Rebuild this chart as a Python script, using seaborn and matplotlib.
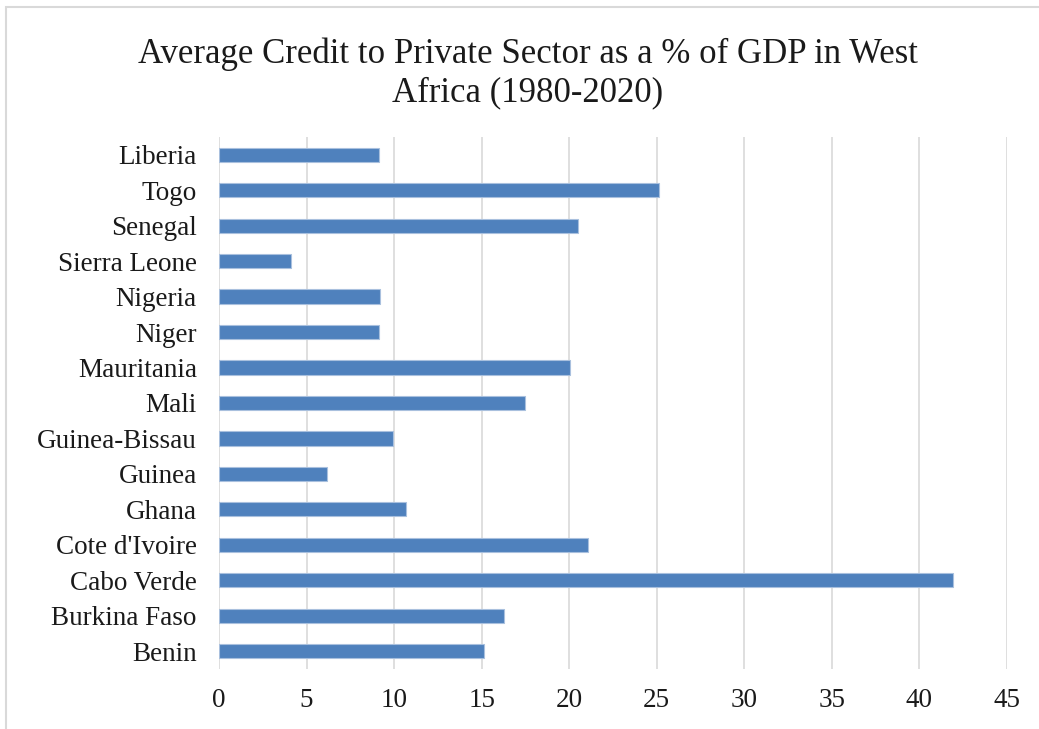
import matplotlib
matplotlib.use("Agg")
import matplotlib.pyplot as plt
from matplotlib.patches import Rectangle
import seaborn as sns
import pandas as pd

countries = ["Liberia", "Togo", "Senegal", "Sierra Leone", "Nigeria", "Niger",
             "Mauritania", "Mali", "Guinea-Bissau", "Guinea", "Ghana",
             "Cote d'Ivoire", "Cabo Verde", "Burkina Faso", "Benin"]
credit_pct = [9.13, 25.1, 20.5, 4.1, 9.2, 9.13,
              20.04, 17.5, 9.92, 6.19, 10.67,
              21.05, 41.9, 16.29, 15.14]
x_ticks = [0, 5, 10, 15, 20, 25, 30, 35, 40, 45]
title = "Average Credit to Private Sector as a % of GDP in West\nAfrica (1980-2020)"

df = pd.DataFrame({"country": countries, "credit": credit_pct})

sns.set_theme(style="white")
plt.rcParams["font.family"] = ["Liberation Serif", "DejaVu Serif"]

fig = plt.figure(figsize=(10.39, 7.29), dpi=100)
ax = fig.add_axes([0.2108, 0.0823, 0.7584, 0.7298])

sns.barplot(data=df, x="credit", y="country", order=countries, orient="h",
            color="#4F81BD", saturation=1, width=0.4,
            edgecolor="#A9C0DE", linewidth=0.8, ax=ax, zorder=3)

ax.set_xlim(0, 45)
ax.set_xticks(x_ticks)
ax.set_xticklabels([str(t) for t in x_ticks])
ax.grid(axis="x", color="#D9D9D9", linewidth=1.2, zorder=0)
ax.set_axisbelow(True)
for s in ax.spines.values():
    s.set_visible(False)
ax.set_xlabel("")
ax.set_ylabel("")
ax.tick_params(axis="y", length=0, pad=16, labelsize=19.5, labelcolor="#1a1a1a")
ax.tick_params(axis="x", length=0, pad=14, labelsize=19.5, labelcolor="#1a1a1a")

fig.text(0.508, 0.948, title, ha="center", va="top", fontsize=25,
         color="#1a1a1a", linespacing=1.18)

# chart-area frame (top and left edges visible)
fig.patches.append(Rectangle((6 / 1039, -0.05), 1.2, 1 - 7 / 729 + 0.05,
                             transform=fig.transFigure, fill=False,
                             edgecolor="#D9D9D9", linewidth=1.5))

fig.savefig("out.png", dpi=100, facecolor="white")
